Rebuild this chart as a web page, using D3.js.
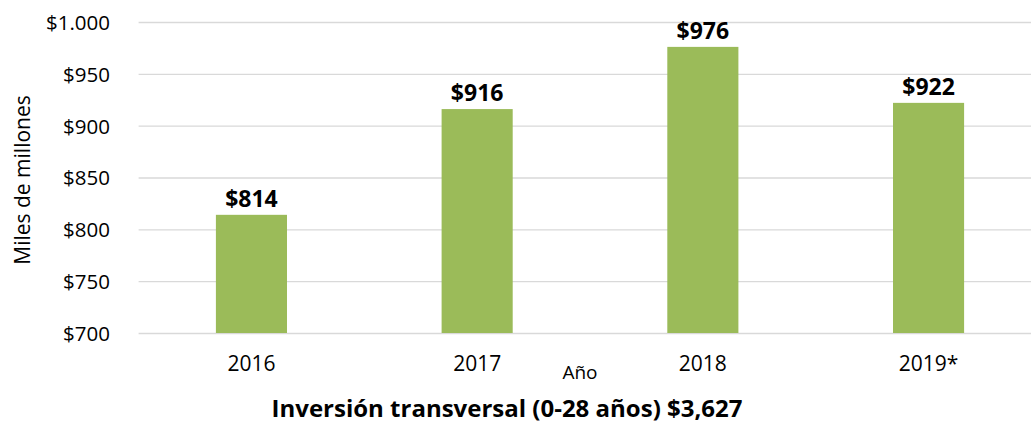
<!DOCTYPE html>
<html>
<head>
<meta charset="utf-8">
<script src="https://cdn.jsdelivr.net/npm/d3@7"></script>
<style>
  body { margin: 0; background: #fff; }
  text { font-family: "Open Sans", "Noto Sans", sans-serif; fill: #000; }
</style>
</head>
<body>
<script>
// datos del gráfico
const years = ["2016", "2017", "2018", "2019*"];
const values = [814, 916, 976, 922];
const yTicks = [700, 750, 800, 850, 900, 950, 1000];
const tickLabels = ["$700", "$750", "$800", "$850", "$900", "$950", "$1.000"];

const w = 1031;
const h = 424;

// el área del gráfico sigue más allá del borde derecho (recortada)
const xScale = d3.scaleBand()
  .domain(years)
  .range([138.6, 1041.4])
  .paddingInner(0.685)
  .paddingOuter(0.3425);

const yScale = d3.scaleLinear()
  .domain([700, 1000])
  .range([333, 22]);

const svg = d3.select("body")
  .append("svg")
  .attr("width", w)
  .attr("height", h);

// líneas de la cuadrícula
svg.append("g")
  .selectAll("line")
  .data(yTicks)
  .enter()
  .append("line")
  .attr("x1", 138.6)
  .attr("x2", 1041.4)
  .attr("y1", d => yScale(d) + 0.5)
  .attr("y2", d => yScale(d) + 0.5)
  .attr("stroke", "#d9d9d9")
  .attr("stroke-width", 1.3);

// etiquetas del eje y
const yAxis = d3.axisLeft(yScale)
  .tickValues(yTicks)
  .tickFormat((d, i) => tickLabels[i])
  .tickSize(0)
  .tickPadding(0);

const gy = svg.append("g")
  .attr("transform", "translate(110,0)")
  .call(yAxis);
gy.select(".domain").remove();
gy.selectAll("text")
  .style("font-size", "20.5px")
  .attr("dy", "0.36em");

// barras
svg.selectAll("rect.bar")
  .data(values)
  .enter()
  .append("rect")
  .attr("class", "bar")
  .attr("x", (d, i) => xScale(years[i]))
  .attr("y", d => yScale(d))
  .attr("width", xScale.bandwidth())
  .attr("height", d => yScale(700) - yScale(d))
  .attr("fill", "#9bbb59");

// valores encima de las barras
svg.selectAll("text.val")
  .data(values)
  .enter()
  .append("text")
  .attr("class", "val")
  .attr("x", (d, i) => xScale(years[i]) + xScale.bandwidth() / 2)
  .attr("y", d => yScale(d) - 8)
  .attr("text-anchor", "middle")
  .style("font-size", "23px")
  .style("font-weight", "bold")
  .text(d => "$" + d);

// etiquetas del eje x
const xAxis = d3.axisBottom(xScale).tickSize(0).tickPadding(0);
const gx = svg.append("g")
  .attr("transform", "translate(0,371)")
  .call(xAxis);
gx.select(".domain").remove();
gx.selectAll("text")
  .attr("dy", "0")
  .style("font-size", "21px");

// títulos
svg.append("text")
  .attr("x", 580)
  .attr("y", 379)
  .attr("text-anchor", "middle")
  .style("font-size", "19px")
  .text("Año");

svg.append("text")
  .attr("transform", "translate(30,180) rotate(-90)")
  .attr("text-anchor", "middle")
  .style("font-size", "21px")
  .text("Miles de millones");

svg.append("text")
  .attr("x", 507)
  .attr("y", 417)
  .attr("text-anchor", "middle")
  .style("font-size", "24px")
  .style("font-weight", "bold")
  .text("Inversión transversal (0-28 años) $3,627");
</script>
</body>
</html>
